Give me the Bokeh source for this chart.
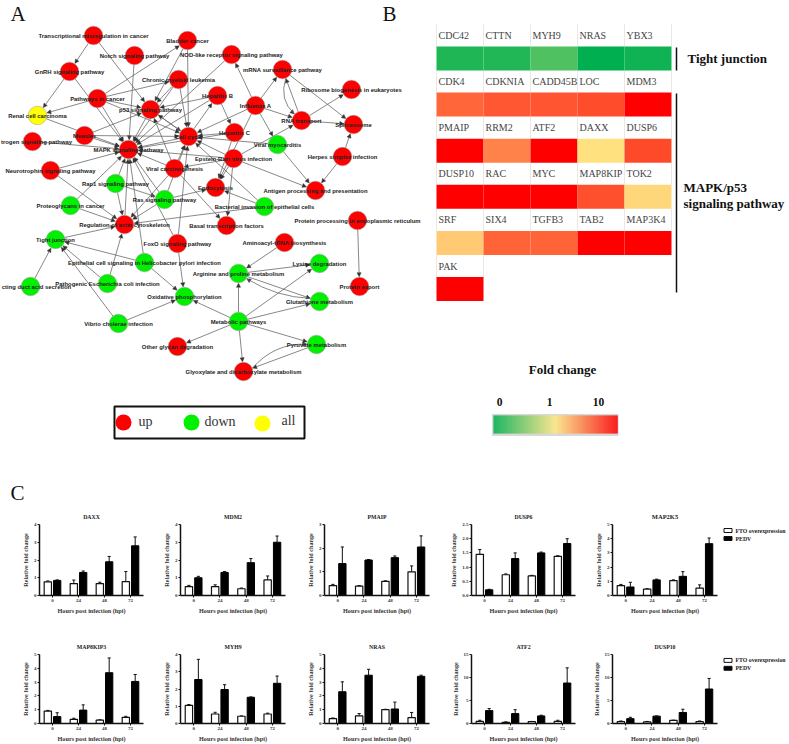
import math
from bokeh.plotting import figure
from bokeh.layouts import column, row
from bokeh.models import Arrow, NormalHead, ColumnDataSource, FixedTicker, Range1d
from bokeh.core.properties import value
from bokeh.embed import file_html
from bokeh.resources import INLINE

# ---------- Panel A: network ----------
node_keys = ["tran","blad","notc","nod","mrna","gnrh","chro","ribo","hepb","path","infl","p53","rena","rnat","spli","hepc","meas","cell","estr","vmyo","mapk","herp","ebv","vcar","neur","rap1","endo","anti","prot","ras","bact","actn","basa","ppro","tigh","foxo","amin","epit","lysi","argi","coll","ecol","pexp","oxid","glut","meta","vibr","pyru","glyc","glox"]
node_names = ["Transcriptional misregulation in cancer","Bladder cancer","Notch signaling pathway","NOD-like receptor signaling pathway","mRNA surveillance pathway","GnRH signaling pathway","Chronic myeloid leukemia","Ribosome biogenesis in eukaryotes","Hepatitis B","Pathways in cancer","Influenza A","p53 signaling pathway","Renal cell carcinoma","RNA transport","Spliceosome","Hepatitis C","Measles","Cell cycle","trogen signaling pathway","Viral myocarditis","MAPK signaling pathway","Herpes simplex infection","Epstein-Barr virus infection","Viral carcinogenesis","Neurotrophin signaling pathway","Rap1 signaling pathway","Endocytosis","Antigen processing and presentation","Proteoglycans in cancer","Ras signaling pathway","Bacterial invasion of epithelial cells","Regulation of actin cytoskeleton","Basal transcription factors","Protein processing in endoplasmic reticulum","Tight junction","FoxO signaling pathway","Aminoacyl-tRNA biosynthesis","Epithelial cell signaling in Helicobacter pylori infection","Lysine degradation","Arginine and proline metabolism","cting duct acid secretion","Pathogenic Escherichia coli infection","Protein export","Oxidative phosphorylation","Glutathione metabolism","Metabolic pathways","Vibrio cholerae infection","Pyruvate metabolism","Other glycan degradation","Glyoxylate and dicarboxylate metabolism"]
node_x = [93,187,134,231,282,69,178,351,217,97,255,150,37,301,353,234,84,188,32,277,128,342,233,174,50,115,215,315,70,164,264,124,226,357,55,177,284,144,319,238,30,107,359,184,319,238,118,316,177,243]
node_y = [35,40,55,54,69,71,79,89,95,98,105,109,115,120,124,132,135,136,141,144,149,156,158,168,170,183,187,190,205,199,206,224,225,220,239,243,242,262,263,273,286,283,286,296,301,321,323,344,346,371]
node_state = ["up","up","up","up","up","up","up","up","up","up","up","up","all","up","up","up","up","up","up","down","up","up","up","up","up","down","up","up","down","down","down","up","up","up","down","up","up","down","down","down","down","down","up","down","down","down","down","down","up","up"]
label_shift = {"estr":4,"coll":6}
edges = """tran>gnrh tran>p53 gnrh>rena gnrh>mapk notc>mapk blad>cell blad>p53 path>blad nod>mapk chro>p53 chro>cell chro>mapk
path>chro hepb>p53 hepb>hepc cell>hepb hepb>mapk path>rena path>mapk path>p53 path>cell infl>nod infl>mrna infl>rnat infl>vmyo infl>cell
infl>endo rnat>mrna mrna>spli rnat>spli rnat>ribo ebv>rnat herp>spli herp>anti vmyo>anti vmyo>cell hepc>cell hepc>mapk hepc>endo
meas>mapk meas>cell meas>p53 rena>mapk estr>mapk neur>mapk neur>actn cell>mapk p53>mapk p53>cell cell>p53 ebv>cell ebv>mapk ebv>anti ebv>endo
vcar>mapk vcar>cell vcar>p53 ebv>vcar vcar>basa vcar>actn rap1>mapk rap1>ras rap1>actn prot>mapk prot>actn ras>mapk ras>cell ras>actn ras>endo
bact>endo bact>cell bact>actn actn>mapk epit>mapk epit>tigh epit>oxid ecol>tigh ecol>actn tigh>actn coll>tigh vibr>tigh vibr>oxid foxo>mapk foxo>cell foxo>oxid
ebv>basa ppro>pexp amin>argi argi>lysi argi>glut meta>argi meta>lysi meta>glut meta>oxid meta>glyc meta>glox meta>pyru pyru>glox""".split()
curved_edges = [("mrna","rnat",14),("glut","argi",-10),("glox","pyru",-16)]
legend_states = ["up","down","all"]
state_colors = {"up":"#FF0000","down":"#00F000","all":"#FFFF00"}

TOP_H = 505
pa = figure(width=422, height=TOP_H, x_range=Range1d(0,422), y_range=Range1d(505,0), output_backend="svg", toolbar_location=None, min_border=0, outline_line_color=None)
pa.axis.visible=False; pa.grid.visible=False
R = 9.3
pos = {k:(x,y) for k,x,y in zip(node_keys,node_x,node_y)}
x0,y0,x1,y1=[],[],[],[]
for e in edges:
    a,b=e.split(">")
    ax,ay=pos[a]; bx,by=pos[b]
    d=math.hypot(bx-ax,by-ay)
    ux,uy=(bx-ax)/d,(by-ay)/d
    x0.append(ax+ux*R); y0.append(ay+uy*R); x1.append(bx-ux*(R+0.5)); y1.append(by-uy*(R+0.5))
EC="#6a6a6a"
qx0,qy0,qx1,qy1,qcx,qcy=[],[],[],[],[],[]
for a,b,off in curved_edges:
    ax,ay=pos[a]; bx,by=pos[b]
    d=math.hypot(bx-ax,by-ay)
    ux,uy=(bx-ax)/d,(by-ay)/d
    cx,cy=(ax+bx)/2-uy*off,(ay+by)/2+ux*off
    d2=math.hypot(bx-cx,by-cy)
    ex,ey=bx-(bx-cx)/d2*(R+0.5),by-(by-cy)/d2*(R+0.5)
    qx0.append(ax+ux*R); qy0.append(ay+uy*R); qx1.append(ex); qy1.append(ey); qcx.append(cx); qcy.append(cy)
    x0.append(ex-(bx-cx)/d2*3); y0.append(ey-(by-cy)/d2*3); x1.append(ex); y1.append(ey)
pa.quadratic(x0=qx0,y0=qy0,x1=qx1,y1=qy1,cx=qcx,cy=qcy,line_color=EC,line_width=0.8)
arrow=Arrow(end=NormalHead(size=4,fill_color="#333333",line_color="#333333",line_width=0.5),
            source=ColumnDataSource(dict(x0=x0,y0=y0,x1=x1,y1=y1)),x_start="x0",y_start="y0",x_end="x1",y_end="y1",
            line_color=EC,line_width=0.8,level="underlay")
pa.add_layout(arrow)
pa.scatter(node_x,node_y,size=2*R,marker="circle",fill_color=[state_colors[s] for s in node_state],line_color="#999999",line_width=0.5)
pa.text([x+label_shift.get(k,0) for k,x in zip(node_keys,node_x)],node_y,text=node_names,text_font=value("Liberation Sans"),text_font_style="bold",text_font_size="5.9px",text_color="#222222",text_align="center",text_baseline="middle")
pa.quad(left=[114],right=[304],top=[406],bottom=[438],fill_color=None,line_color="#111111",line_width=2)
pa.scatter([123,191,262],[422,422,423],size=16,marker="circle",fill_color=[state_colors[s] for s in legend_states],line_color=None)
pa.text([138,204,281],[421,421,420],text=legend_states,text_font=value("Liberation Serif"),text_font_size="14px",text_color="#333333",text_align="left",text_baseline="middle")
pa.text([10,382,10],[13,13,492],text=["A","B","C"],text_font=value("Liberation Serif"),text_font_size="21px",text_color="#111111",text_baseline="middle")

# ---------- Panel B: heat map ----------
hm_genes = [["CDC42","CTTN","MYH9","NRAS","YBX3"],["CDK4","CDKNIA","CADD45B","LOC","MDM3"],["PMAIP","RRM2","ATF2","DAXX","DUSP6"],["DUSP10","RAC","MYC","MAP8KIP","TOK2"],["SRF","SIX4","TGFB3","TAB2","MAP3K4"],["PAK"]]
hm_fold = [[0.12,0.13,0.31,0.0,0.06],[3.6,4.2,4.3,4.7,10],[10,2.75,10,1.07,4.8],[10,10,10,4.5,1.18],[1.35,3.7,3.7,10,10],[10]]
fold_ticks=["0","1","10"]
def hexc(r,g,b): return "#%02X%02X%02X"%(round(r),round(g),round(b))
def cmap(t):
    lo,mid,hi=(0,176,80),(255,232,132),(255,0,0)
    if t<0.5:
        a,b,f=lo,mid,t/0.5
    else:
        a,b,f=mid,hi,(t-0.5)/0.5
    return hexc(*[a[i]+(b[i]-a[i])*f for i in range(3)])
def fold_to_t(v):
    return v/2 if v<=1 else 0.5+0.5*math.log10(v)

pb = figure(width=367, height=TOP_H, x_range=Range1d(422,789), y_range=Range1d(505,0), output_backend="svg", toolbar_location=None, min_border=0, outline_line_color=None)
pb.axis.visible=False; pb.grid.visible=False
COL0,COLW,ROW0,ROWH,CELLH=436,47,58,46.1,24
cx,cy,cc,lx,ly,lt,sx0,sy0,sy1=[],[],[],[],[],[],[],[],[]
for r,(genes,folds) in enumerate(zip(hm_genes,hm_fold)):
    for c,(g,f) in enumerate(zip(genes,folds)):
        cx.append(COL0+COLW*(c+.5)); cy.append(ROW0+ROWH*r); cc.append(cmap(fold_to_t(f)))
        lx.append(COL0+COLW*c+2); ly.append(ROW0+ROWH*r-23); lt.append(g)
    for c in range(len(genes)+1):
        sx0.append(COL0+COLW*c); sy0.append(ROW0+ROWH*r-CELLH/2-22); sy1.append(ROW0+ROWH*r-CELLH/2)
pb.segment(sx0,sy0,sx0,sy1,line_color="#E8E8E8",line_width=1)
pb.rect(cx,cy,width=COLW,height=CELLH,fill_color=cc,line_color=None)
pb.text(lx,ly,text=lt,text_font=value("Liberation Serif"),text_font_size="10px",text_color="#444444",text_baseline="middle")
pb.segment([676,676],[47,93],[676,676],[70,292],line_color="#111111",line_width=1.5)
pb.text([687],[58],text=["Tight junction"],text_font=value("Liberation Serif"),text_font_style="bold",text_font_size="13px",text_color="#111111",text_baseline="middle")
pb.text([683,683],[187,203],text=["MAPK/p53","signaling pathway"],text_font=value("Liberation Serif"),text_font_style="bold",text_font_size="13px",text_color="#111111",text_baseline="middle")
pb.text([562],[369],text=["Fold change"],text_font=value("Liberation Serif"),text_font_style="bold",text_font_size="13px",text_color="#111111",text_align="center",text_baseline="middle")
pb.text([499,549,598],[401,401,401],text=fold_ticks,text_font=value("Liberation Serif"),text_font_style="bold",text_font_size="11.5px",text_color="#111111",text_align="center",text_baseline="middle")
N=124
pb.quad(left=[491.5],right=[618],top=[413.5],bottom=[435.5],fill_color="#D8D8D8",line_color=None)
pb.quad(left=[493+i for i in range(N)],right=[494.2+i for i in range(N)],top=[415]*N,bottom=[433]*N,fill_color=[cmap(i/(N-1)) for i in range(N)],line_color=None)

# ---------- Panel C: bars ----------
hours=["0","24","48","72"]
charts_row1=[
 dict(name="DAXX",ymax=4,ticks=[0,1,2,3,4],white=[.77,.67,.67,.78],white_top=[.82,.87,.75,1.35],black=[.85,1.3,1.9,2.8],black_top=[.88,1.38,2.2,3.3]),
 dict(name="MDM2",ymax=4,ticks=[0,1,2,3,4],white=[.5,.5,.38,.88],white_top=[.57,.6,.42,1.1],black=[1.0,1.3,1.85,3.0],black_top=[1.08,1.35,2.08,3.35]),
 dict(name="PMAIP",ymax=3,ticks=[0,1,2,3],white=[.42,.4,.6,1.0],white_top=[.47,.42,.62,1.25],black=[1.35,1.5,1.6,2.05],black_top=[2.05,1.52,1.67,2.52]),
 dict(name="DUSP6",ymax=2.5,ticks=[0,.5,1,1.5,2,2.5],white=[1.45,.73,.69,1.38],white_top=[1.62,.76,.71,1.4],black=[.2,1.3,1.5,1.83],black_top=[.22,1.5,1.53,2.0]),
 dict(name="MAP2K5",ymax=5,ticks=[0,1,2,3,4,5],white=[.7,.45,1.05,.52],white_top=[.78,.48,1.1,.75],black=[.6,1.1,1.35,3.65],black_top=[.93,1.15,1.68,4.05]),
]
charts_row2=[
 dict(name="MAP8KIP3",ymax=5,ticks=[0,1,2,3,4,5],white=[.9,.3,.25,.45],white_top=[.95,.38,.27,.52],black=[.5,.97,3.68,3.05],black_top=[.78,1.35,4.75,3.55]),
 dict(name="MYH9",ymax=4,ticks=[0,1,2,3,4],white=[1.05,.55,.42,.55],white_top=[1.1,.65,.44,.6],black=[2.55,1.97,1.52,2.33],black_top=[3.72,2.25,1.54,2.75]),
 dict(name="NRAS",ymax=5,ticks=[0,1,2,3,4,5],white=[.35,.55,1.0,.42],white_top=[.4,.72,1.03,.8],black=[2.3,3.5,1.05,3.42],black_top=[3.02,3.93,1.55,3.5]),
 dict(name="ATF2",ymax=15,ticks=[0,5,10,15],white=[.45,.25,.4,.45],white_top=[.7,.35,.45,.7],black=[2.8,2.15,1.65,8.8],black_top=[3.25,3.0,1.8,12.1]),
 dict(name="DUSP10",ymax=15,ticks=[0,5,10,15],white=[.4,.35,.7,.4],white_top=[.55,.45,.72,.55],black=[1.05,1.6,2.4,7.5],black_top=[1.35,1.65,3.1,9.8]),
]
series_names=["FTO overexpression","PEDV"]
SERIF=value("Liberation Serif")
def bar_chart(c,left,frame_w,right,top,frame_h,bottom):
    p=figure(width=left+frame_w+right,height=top+frame_h+bottom,x_range=Range1d(0,4),y_range=Range1d(0,c["ymax"]),
             output_backend="svg",toolbar_location=None,min_border_left=left,min_border_right=right,min_border_top=top,min_border_bottom=bottom,outline_line_color=None,
             title=c["name"],x_axis_label="Hours post infection (hpi)",y_axis_label="Relative fold change")
    p.grid.visible=False
    big=c["name"]=="MAP2K5"
    p.title.align="center"; p.title.text_font="Liberation Serif"; p.title.text_font_style="bold"
    p.title.text_font_size="6.5px" if big else "5.8px"; p.title.text_color="#222222"; p.title.standoff=10
    n=len(hours)
    centers=[i+.5 for i in range(n)]
    wx=[x-.18 for x in centers]; bx=[x+.18 for x in centers]
    for xs,vals,tops in ((wx,c["white"],c["white_top"]),(bx,c["black"],c["black_top"])):
        p.segment(xs,vals,xs,tops,line_color="#111111",line_width=1)
        p.segment([x-.06 for x in xs],tops,[x+.06 for x in xs],tops,line_color="#111111",line_width=1)
    p.vbar(x=wx,top=c["white"],bottom=0,width=.28,fill_color="white",line_color="#111111",line_width=1.2)
    p.vbar(x=bx,top=c["black"],bottom=0,width=.28,fill_color="#000000",line_color="#000000",line_width=1)
    p.xaxis.ticker=FixedTicker(ticks=centers)
    p.xaxis.major_label_overrides={x:h for x,h in zip(centers,hours)}
    p.yaxis.ticker=FixedTicker(ticks=c["ticks"])
    if c["ymax"]==2.5:
        p.yaxis.major_label_overrides={t:"%.1f"%t for t in c["ticks"]}
    for ax in (p.xaxis[0],p.yaxis[0]):
        ax.axis_line_width=1.5; ax.axis_line_color="#111111"
        ax.major_tick_line_width=1; ax.major_tick_line_color="#111111"
        ax.major_tick_in=0; ax.major_tick_out=2; ax.minor_tick_line_color=None
        ax.major_label_text_font="Liberation Serif"; ax.major_label_text_font_style="bold"
        ax.major_label_text_font_size="5px"; ax.major_label_text_color="#333333"; ax.major_label_standoff=1
        ax.axis_label_text_font="Liberation Serif"; ax.axis_label_text_font_style="bold"
        ax.axis_label_text_font_size="6.2px"; ax.axis_label_text_color="#333333"; ax.axis_label_standoff=2
    return p
def legend_fig(frame_top,ys,top,frame_h,bottom):
    p=figure(width=69,height=top+frame_h+bottom,x_range=Range1d(720,789),y_range=Range1d(frame_top+frame_h,frame_top),output_backend="svg",toolbar_location=None,
             min_border_left=0,min_border_right=0,min_border_top=top,min_border_bottom=bottom,outline_line_color=None)
    p.axis.visible=False; p.grid.visible=False
    p.rect([727.5,727.5],ys,width=8,height=4,fill_color=["white","#000000"],line_color="#111111",line_width=1)
    p.text([735,735],ys,text=series_names,text_font=SERIF,text_font_style="bold",text_font_size="5.8px",text_color="#222222",text_baseline="middle")
    return p
geom=[(39,104,7),(30,105,7),(32,105,11),(31,104,7),(30,105,3)]
R1H=(19,71,21); R2H=(38,70,20)
row1=[bar_chart(c,g[0],g[1],g[2],*R1H) for c,g in zip(charts_row1,geom)]+[legend_fig(524,[530,538],*R1H)]
row2=[bar_chart(c,g[0],g[1],g[2],*R2H) for c,g in zip(charts_row2,geom)]+[legend_fig(654,[660,668],*R2H)]
layout=column(row(pa,pb,spacing=0),row(*row1,spacing=0),row(*row2,spacing=0),spacing=0)
open("out.html","w").write(file_html(layout,INLINE))
